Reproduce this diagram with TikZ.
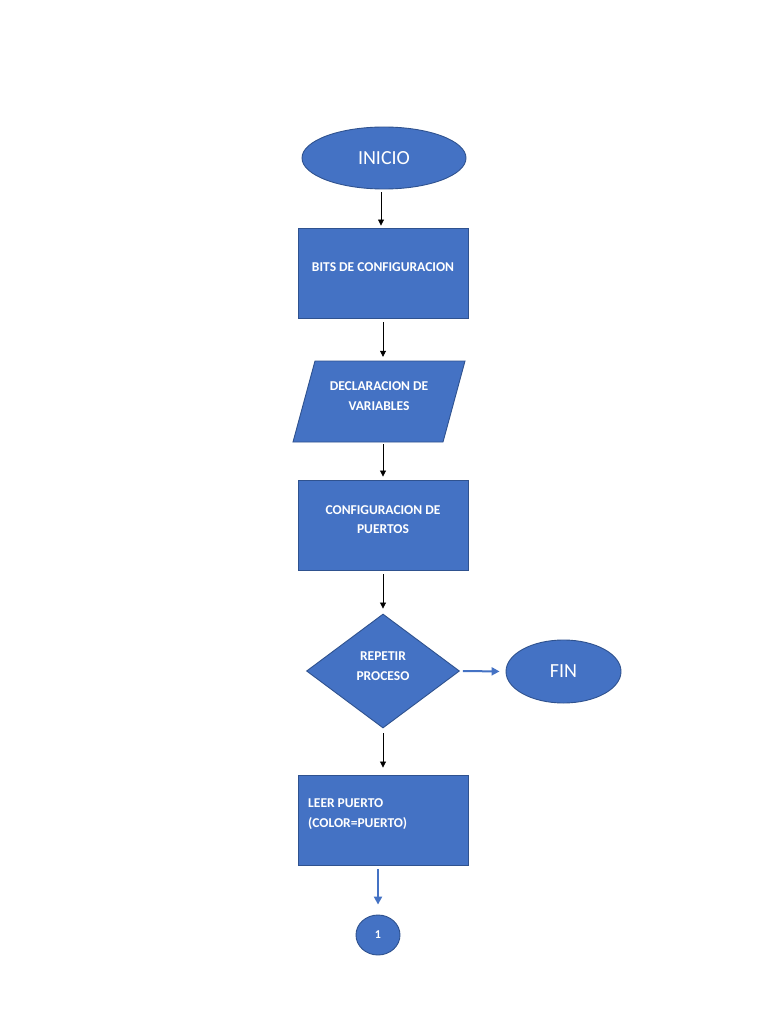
\documentclass[tikz,border=0pt]{standalone}
\usepackage{fontspec}
\setmainfont{Carlito}
\usetikzlibrary{shapes.geometric,arrows.meta}
\definecolor{fillblue}{HTML}{4472C4}
\definecolor{edgeblue}{HTML}{2F528F}
\tikzset{
  shapebase/.style={fill=fillblue, draw=edgeblue, line width=0.9pt, inner sep=0pt, text=white},
  oval/.style={shapebase, ellipse},
  procbox/.style={shapebase, rectangle, minimum width=170pt, minimum height=90pt},
  decision/.style={shapebase, diamond},
  boxtext/.style={text=white, font=\fontsize{13.5}{19.5}\selectfont\bfseries, align=center, inner sep=0pt},
  flow/.style={draw=black, line width=0.8pt, -{Triangle[length=6pt,width=6pt]}},
  blueflow/.style={draw=fillblue, line width=2pt, -{Triangle[length=8pt,width=8pt]}}
}
\begin{document}
\begin{tikzpicture}[x=1pt,y=-1pt]
\useasboundingbox[fill=white] (0,0) rectangle (768,1024);

\node[oval, minimum width=164pt, minimum height=62pt, font=\fontsize{20}{24}\selectfont] (inicio) at (384,158) {INICIO};

\node[procbox] (bits) at (383,273) {};
\node[boxtext] (bitst) at (383,267) {BITS DE CONFIGURACION};

\fill[fillblue, draw=edgeblue, line width=0.9pt] (315,361) -- (465,361) -- (443,442) -- (293,442) -- cycle;
\node[rectangle, minimum width=150pt, minimum height=81pt, inner sep=0pt] (decl) at (379,401.5) {};
\node[boxtext] (declt) at (379,396) {DECLARACION DE\\VARIABLES};

\node[procbox] (conf) at (383,525) {};
\node[boxtext] (conft) at (383,519.5) {CONFIGURACION DE\\PUERTOS};

\node[decision, minimum width=153pt, minimum height=114pt] (rep) at (383,671) {};
\node[boxtext] (rept) at (383,666) {REPETIR\\PROCESO};

\node[oval, minimum width=115pt, minimum height=63pt, font=\fontsize{20}{24}\selectfont] (fin) at (563.5,671.5) {FIN};

\node[procbox] (leer) at (383,820) {};
\node[boxtext, align=left, anchor=west] (leert) at (308,814) {LEER PUERTO\\(COLOR=PUERTO)};

\node[oval, minimum width=44pt, minimum height=40pt, font=\fontsize{12}{14}\selectfont\bfseries] (one) at (378,935) {1};

\draw[flow, shorten <=3pt, shorten >=2pt] ([xshift=-3pt]inicio.south) -- ([xshift=-3pt]inicio.south |- bits.north);
\draw[flow, shorten <=4pt, shorten >=4pt] (bits.south) -- (bits.south |- decl.north);
\draw[flow, shorten <=2pt, shorten >=3pt] (decl.south -| bits.south) -- (conf.north);
\draw[flow, shorten <=4pt, shorten >=5pt] (conf.south) -- (rep.north);
\draw[blueflow, shorten <=3pt, shorten >=6pt] (rep.east) -- (fin.west);
\draw[flow, shorten <=5pt, shorten >=7pt] (rep.south) -- (leer.north);
\draw[blueflow, shorten <=4pt, shorten >=10pt] (leer.south -| one.north) -- (one.north);
\end{tikzpicture}
\end{document}
